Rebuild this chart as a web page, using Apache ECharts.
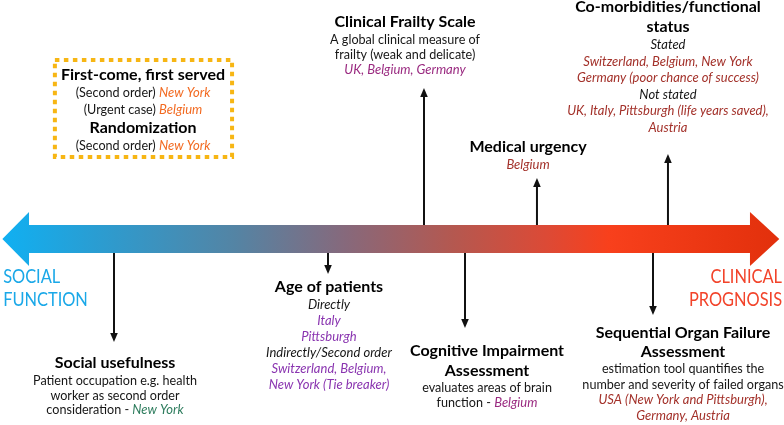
<!DOCTYPE html>
<html><head><meta charset="utf-8">
<script src="https://cdn.jsdelivr.net/npm/echarts@6/dist/echarts.min.js"></script>
<style>html,body{margin:0;padding:0;background:#fff}#c{width:784px;height:425px}</style>
</head><body><div id="c"></div>
<script>
// ---------- DATA ----------
const factors = ['Social usefulness', 'Age of patients', 'Clinical Frailty Scale',
  'Cognitive Impairment Assessment', 'Medical urgency', 'Co-morbidities/functional status',
  'Sequential Organ Failure Assessment'];
// position of each factor along the social-function (0) -> clinical-prognosis (100) spectrum
const spectrumPos = [14.54, 41.84, 54.08, 59.31, 68.49, 85.20, 83.29];
const direction = ['down', 'down', 'up', 'down', 'up', 'up', 'down'];
const poles = [['SOCIAL', 'FUNCTION'], ['CLINICAL', 'PROGNOSIS']];

const socialText = [
  [['t', 'Social usefulness']],
  [['b', 'Patient occupation e.g. health']],
  [['b', 'worker as second order']],
  [['b', 'consideration - '], ['grn', 'New York']]
];
const ageText = [
  [['t', 'Age of patients']],
  [['i', 'Directly']],
  [['pur', 'Italy']],
  [['pur', 'Pittsburgh']],
  [['i', 'Indirectly/Second order']],
  [['pur', 'Switzerland, Belgium,']],
  [['pur', 'New York (Tie breaker)']]
];
const frailtyText = [
  [['t', 'Clinical Frailty Scale']],
  [['b', 'A global clinical measure of']],
  [['b', 'frailty (weak and delicate)']],
  [['mag', 'UK, Belgium, Germany']]
];
const cognitiveText = [
  [['t', 'Cognitive Impairment']],
  [['t', 'Assessment']],
  [['b', 'evaluates areas of brain']],
  [['b', 'function - '], ['mag', 'Belgium']]
];
const urgencyText = [
  [['t', 'Medical urgency']],
  [['red', 'Belgium']]
];
const comorbText = [
  [['t', 'Co-morbidities/functional']],
  [['t', 'status']],
  [['i', 'Stated']],
  [['red', 'Switzerland, Belgium, New York']],
  [['red', 'Germany (poor chance of success)']],
  [['i', 'Not stated']],
  [['red', 'UK, Italy, Pittsburgh (life years saved),']],
  [['red', 'Austria']]
];
const sofaText = [
  [['t', 'Sequential Organ Failure']],
  [['t', 'Assessment']],
  [['b', 'estimation tool quantifies the']],
  [['b', 'number and severity of failed organs']],
  [['red', 'USA (New York and Pittsburgh),']],
  [['red', 'Germany, Austria']]
];
const boxText = [
  [['t', 'First-come, first served']],
  [['b', '(Second order) '], ['org', 'New York']],
  [['b', '(Urgent case) '], ['org', 'Belgium']],
  [['t', 'Randomization']],
  [['b', '(Second order) '], ['org', 'New York']]
];
const factorTexts = [socialText, ageText, frailtyText, cognitiveText, urgencyText, comorbText, sofaText];

// ---------- LAYOUT / STYLE ----------
const FONT = "Lato, 'Liberation Sans', Arial, sans-serif";
const L = {
  shaftTop: 225, shaftBottom: 253, headTop: 212, headBottom: 266, midY: 239,
  tipL: 0.3, baseL: 3.7, baseR: 95.66, tipR: 99.4,
  arrowEnd: [342, 274, 88, 328, 178, 154, 315],
  labels: [
    { x: 14.67, top: 352, tlh: 22, blh: 14.5 },
    { x: 41.96, top: 277, tlh: 20, blh: 16 },
    { x: 51.66, top: 11, tlh: 21, blh: 15 },
    { x: 62.12, top: 341, tlh: 20, blh: 14.5 },
    { x: 67.35, top: 137, tlh: 20, blh: 16 },
    { x: 85.20, top: -3, tlh: 20, blh: 16.5 },
    { x: 87.12, top: 323.5, tlh: 19, blh: 15.5 }
  ],
  box: { x0: 7.0, x1: 29.6, y0: 60, y1: 157, textX: 18.24, top: 65, tlh: 20, blh: 16.5 },
  poleL: { x: 0.4, top: 265 }, poleR: { x: 99.75, top: 265 }
};
const colors = { b: '#161616', red: '#a3312a', pur: '#8a35b0', mag: '#9a2a80', org: '#f26a21', grn: '#2f7d5e' };

function makeRich(tlh, blh) {
  const base = { fontFamily: FONT, fontSize: 12.6, lineHeight: blh, fill: colors.b };
  const ital = Object.assign({}, base, { fontSize: 13, fontStyle: 'italic' });
  return {
    t: { fontFamily: FONT, fontSize: 16, fontWeight: 'bold', lineHeight: tlh, fill: '#000' },
    b: Object.assign({}, base),
    i: Object.assign({}, ital),
    red: Object.assign({}, ital, { fill: colors.red }),
    pur: Object.assign({}, ital, { fill: colors.pur }),
    mag: Object.assign({}, ital, { fill: colors.mag }),
    org: Object.assign({}, ital, { fill: colors.org }),
    grn: Object.assign({}, ital, { fill: colors.grn })
  };
}
function toRich(lines) {
  return lines.map(line => line.map(([s, t]) => '{' + s + '|' + t + '}').join('')).join('\n');
}

const chart = echarts.init(document.getElementById('c'), null, { renderer: 'canvas' });

const arrowData = spectrumPos.map((p, i) => [p, direction[i] === 'up' ? L.shaftTop : L.shaftBottom, L.arrowEnd[i]]);
const labelData = factors.map((f, i) => [L.labels[i].x, L.labels[i].top, i]);

const option = {
  animation: false,
  grid: { left: 0, right: 0, top: 0, bottom: 0 },
  xAxis: { type: 'value', min: 0, max: 100, show: false },
  yAxis: { type: 'value', min: 0, max: 425, inverse: true, show: false },
  series: [
    { // spectrum double arrow
      type: 'custom', coordinateSystem: 'cartesian2d', silent: true, z: 1,
      data: [[0, L.midY]],
      renderItem: function (params, api) {
        const c = (x, y) => api.coord([x, y]);
        const pts = [
          c(L.tipL, L.midY), c(L.baseL, L.headTop), c(L.baseL, L.shaftTop),
          c(L.baseR, L.shaftTop), c(L.baseR, L.headTop), c(L.tipR, L.midY),
          c(L.baseR, L.headBottom), c(L.baseR, L.shaftBottom), c(L.baseL, L.shaftBottom),
          c(L.baseL, L.headBottom)
        ];
        return {
          type: 'polygon', shape: { points: pts },
          style: {
            fill: new echarts.graphic.LinearGradient(0, 0, 1, 0, [
              { offset: 0, color: '#10b0f2' },
              { offset: 0.12, color: '#2a9dd2' },
              { offset: 0.3, color: '#5484a4' },
              { offset: 0.44, color: '#86697c' },
              { offset: 0.58, color: '#b45850' },
              { offset: 0.7, color: '#dc4a36' },
              { offset: 0.78, color: '#f8401c' },
              { offset: 1, color: '#e2300c' }
            ])
          }
        };
      }
    },
    { // factor arrows
      type: 'custom', coordinateSystem: 'cartesian2d', silent: true, z: 2,
      data: arrowData,
      renderItem: function (params, api) {
        const p0 = api.coord([api.value(0), api.value(1)]);
        const p1 = api.coord([api.value(0), api.value(2)]);
        const d = p1[1] > p0[1] ? 1 : -1;
        const hl = 9, hw = 3.8;
        return {
          type: 'group', children: [
            { type: 'line', shape: { x1: p0[0], y1: p0[1], x2: p1[0], y2: p1[1] - d * (hl - 1) },
              style: { stroke: '#111', lineWidth: 2 } },
            { type: 'polygon', shape: { points: [[p1[0], p1[1]], [p1[0] - hw, p1[1] - d * hl], [p1[0] + hw, p1[1] - d * hl]] },
              style: { fill: '#111' } }
          ]
        };
      }
    },
    { // factor text blocks
      type: 'custom', coordinateSystem: 'cartesian2d', silent: true, z: 3,
      data: labelData,
      renderItem: function (params, api) {
        const i = api.value(2);
        const lb = L.labels[i];
        const p = api.coord([api.value(0), api.value(1)]);
        return {
          type: 'text',
          style: { x: p[0], y: p[1], text: toRich(factorTexts[i]), rich: makeRich(lb.tlh, lb.blh),
            align: 'center', verticalAlign: 'top', fill: '#111', font: '13px ' + FONT }
        };
      }
    },
    { // dashed box with allocation rules
      type: 'custom', coordinateSystem: 'cartesian2d', silent: true, z: 3,
      data: [[L.box.textX, L.box.top]],
      renderItem: function (params, api) {
        const a = api.coord([L.box.x0, L.box.y0]), b = api.coord([L.box.x1, L.box.y1]);
        const p = api.coord([api.value(0), api.value(1)]);
        return {
          type: 'group', children: [
            { type: 'rect', shape: { x: a[0], y: a[1], width: b[0] - a[0], height: b[1] - a[1] },
              style: { fill: 'none', stroke: '#f7b614', lineWidth: 4, lineDash: [4.5, 4.5] } },
            { type: 'text', style: { x: p[0], y: p[1], text: toRich(boxText), rich: makeRich(L.box.tlh, L.box.blh),
              align: 'center', verticalAlign: 'top', fill: '#111' } }
          ]
        };
      }
    },
    { // pole labels
      type: 'custom', coordinateSystem: 'cartesian2d', silent: true, z: 3,
      data: [[L.poleL.x, L.poleL.top, 0], [L.poleR.x, L.poleR.top, 1]],
      renderItem: function (params, api) {
        const i = api.value(2);
        const p = api.coord([api.value(0), api.value(1)]);
        return {
          type: 'text', x: p[0], y: p[1], scaleX: 0.82,
          style: { x: 0, y: 0, text: poles[i].join('\n'), align: i === 0 ? 'left' : 'right', verticalAlign: 'top',
            fill: i === 0 ? '#1aa8e8' : '#f2432a', fontSize: 20, fontWeight: 'normal', fontFamily: FONT, lineHeight: 23 }
        };
      }
    }
  ]
};
chart.setOption(option);
</script>
</body></html>
